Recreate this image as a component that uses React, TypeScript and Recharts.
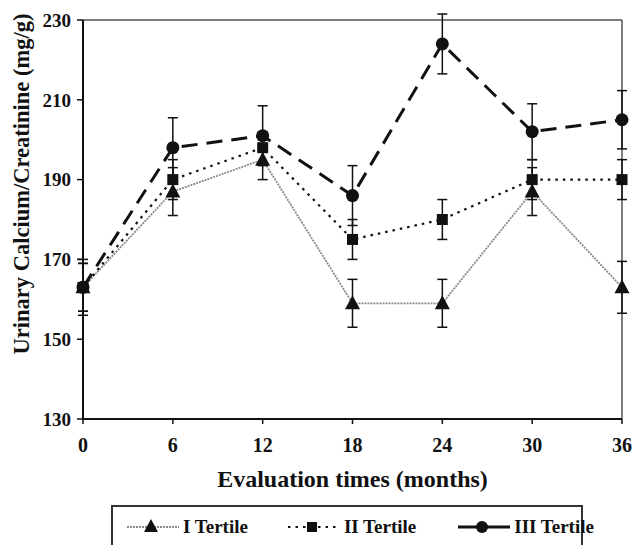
import React from "react"
import { LineChart, Line, XAxis, YAxis, ErrorBar, ReferenceLine, Legend, Label } from "recharts"

const months = [0, 6, 12, 18, 24, 30, 36]
const tertile1 = [163, 187, 195, 159, 159, 187, 163]
const tertile2 = [163, 190, 198, 175, 180, 190, 190]
const tertile3 = [163, 198, 201, 186, 224, 202, 205]
const err1 = [6, 6, 5, 6, 6, 6, 6.5]
const err2 = [6, 5, 4, 5, 5, 5, 5]
const err3 = [7, 7.5, 7.5, 7.5, 7.5, 7, 7.3]
const yTicks = [130, 150, 170, 190, 210, 230]

const data = months.map((m, i) => ({
  month: m,
  t1: tertile1[i],
  t2: tertile2[i],
  t3: tertile3[i],
  e1: err1[i],
  e2: err2[i],
  e3: err3[i],
}))

const FONT = "'Liberation Serif', 'Times New Roman', serif"
const INK = "#111"

const Triangle = ({ cx, cy }: { cx?: number; cy?: number }) =>
  cx == null || cy == null ? null : (
    <polygon points={`${cx},${cy - 8} ${cx - 7.5},${cy + 6} ${cx + 7.5},${cy + 6}`} fill={INK} />
  )

const Square = ({ cx, cy }: { cx?: number; cy?: number }) =>
  cx == null || cy == null ? null : <rect x={cx - 5.5} y={cy - 5.5} width={11} height={11} fill={INK} />

const Circle = ({ cx, cy }: { cx?: number; cy?: number }) =>
  cx == null || cy == null ? null : <circle cx={cx} cy={cy} r={6.5} fill={INK} />

function LegendBox() {
  const item = (sample: React.ReactNode, text: string, gap: number) => (
    <div style={{ display: "flex", alignItems: "center", marginRight: gap, whiteSpace: "nowrap" }}>
      <svg width={56} height={20}>{sample}</svg>
      <span style={{ marginLeft: 2 }}>{text}</span>
    </div>
  )
  return (
    <div
      style={{
        boxSizing: "border-box",
        width: 472,
        height: 44,
        marginLeft: 111,
        border: "2px solid #333",
        display: "flex",
        alignItems: "center",
        paddingLeft: 12,
        fontFamily: FONT,
        fontWeight: "bold",
        fontSize: 19,
        color: INK,
      }}
    >
      {item(
        <g>
          <line x1={2} y1={10} x2={54} y2={10} stroke="#8a8a8a" strokeWidth={1.8} strokeDasharray="2 1" />
          <polygon points="26,2 19,15 33,15" fill={INK} />
        </g>,
        "I Tertile",
        38
      )}
      {item(
        <g>
          <line x1={2} y1={10} x2={54} y2={10} stroke={INK} strokeWidth={2.2} strokeDasharray="2.5 5" />
          <rect x={21} y={5} width={10} height={10} fill={INK} />
        </g>,
        "II Tertile",
        40
      )}
      {item(
        <g>
          <line x1={2} y1={10} x2={54} y2={10} stroke={INK} strokeWidth={3} />
          <circle cx={26} cy={10} r={6} fill={INK} />
        </g>,
        "III Tertile",
        0
      )}
    </div>
  )
}

export default function App() {
  return (
    <div style={{ width: 633, height: 545, background: "#fff", overflow: "hidden" }}>
      <style>{"body{margin:0}"}</style>
      <LineChart width={633} height={545} data={data} margin={{ top: 20, right: 11, bottom: 0, left: 0 }}>
        <XAxis
          dataKey="month"
          type="number"
          domain={[0, 36]}
          ticks={months}
          height={82}
          axisLine={{ stroke: INK, strokeWidth: 2 }}
          tickLine={{ stroke: INK, strokeWidth: 1.5 }}
          tickSize={5}
          tickMargin={14}
          tick={{ fill: INK, fontSize: 20, fontWeight: "bold", fontFamily: FONT }}
        >
          <Label
            value="Evaluation times (months)"
            position="insideBottom"
            offset={14}
            style={{ fill: INK, fontSize: 24, fontWeight: "bold", fontFamily: FONT }}
          />
        </XAxis>
        <YAxis
          type="number"
          domain={[130, 230]}
          ticks={yTicks}
          allowDataOverflow
          width={83}
          axisLine={{ stroke: INK, strokeWidth: 2 }}
          tickLine={{ stroke: INK, strokeWidth: 1.5 }}
          tickSize={6}
          tickMargin={6}
          tick={{ fill: INK, fontSize: 19, fontWeight: "bold", fontFamily: FONT }}
        >
          <Label
            content={() => (
              <text
                transform="translate(29,184) rotate(-90)"
                textAnchor="middle"
                style={{ fill: INK, fontSize: 22.5, fontWeight: "bold", fontFamily: FONT }}
              >
                Urinary Calcium/Creatinine (mg/g)
              </text>
            )}
          />
        </YAxis>
        <ReferenceLine y={230} stroke="#555" strokeWidth={1.5} />
        <ReferenceLine x={36} stroke="#555" strokeWidth={1.5} />
        <Legend
          verticalAlign="bottom"
          align="left"
          content={() => <LegendBox />}
          wrapperStyle={{ left: 0, top: 505, width: 633 }}
        />
        <Line
          dataKey="t1"
          name="I Tertile"
          stroke="#8a8a8a"
          strokeWidth={1.8}
          strokeDasharray="2 1"
          dot={<Triangle />}
          isAnimationActive={false}
        >
          <ErrorBar dataKey="e1" direction="y" width={5} stroke={INK} strokeWidth={1.5} />
        </Line>
        <Line
          dataKey="t2"
          name="II Tertile"
          stroke={INK}
          strokeWidth={2.2}
          strokeDasharray="2.5 5"
          dot={<Square />}
          isAnimationActive={false}
        >
          <ErrorBar dataKey="e2" direction="y" width={5} stroke={INK} strokeWidth={1.5} />
        </Line>
        <Line
          dataKey="t3"
          name="III Tertile"
          stroke={INK}
          strokeWidth={3}
          strokeDasharray="16 9"
          dot={<Circle />}
          isAnimationActive={false}
        >
          <ErrorBar dataKey="e3" direction="y" width={5} stroke={INK} strokeWidth={1.5} />
        </Line>
      </LineChart>
    </div>
  )
}
